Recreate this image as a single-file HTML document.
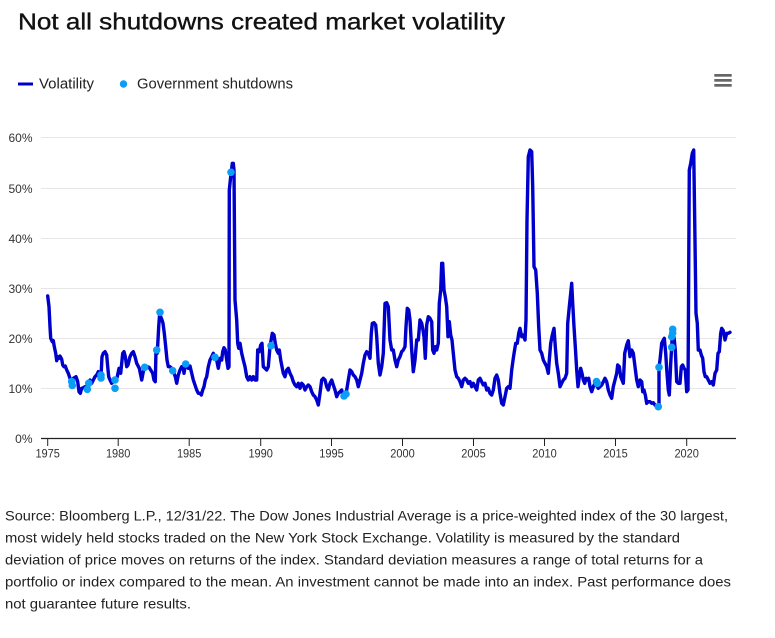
<!DOCTYPE html>
<html><head><meta charset="utf-8"><style>
html,body{margin:0;padding:0;background:#fff;}
svg{display:block;}
text{font-family:"Liberation Sans",Arial,sans-serif;}
</style></head><body>
<svg width="775" height="638" viewBox="0 0 775 638" xmlns="http://www.w3.org/2000/svg">
<rect width="775" height="638" fill="#fff"/>
<text x="18" y="29.3" font-size="23" fill="#111" stroke="#111" stroke-width="0.35" textLength="487" lengthAdjust="spacingAndGlyphs">Not all shutdowns created market volatility</text>
<!-- legend -->
<line x1="18" y1="84" x2="33" y2="84" stroke="#0000cc" stroke-width="3"/>
<text x="39" y="88.5" font-size="15" fill="#222" textLength="55" lengthAdjust="spacingAndGlyphs">Volatility</text>
<circle cx="123.5" cy="84" r="3.7" fill="#0c9ef5"/>
<text x="137" y="88.5" font-size="15" fill="#222" textLength="156" lengthAdjust="spacingAndGlyphs">Government shutdowns</text>
<!-- hamburger -->
<rect x="714.3" y="74" width="17.4" height="2.7" fill="#666"/>
<rect x="714.3" y="79" width="17.4" height="2.7" fill="#666"/>
<rect x="714.3" y="84" width="17.4" height="2.7" fill="#666"/>
<!-- gridlines -->
<g stroke="#e6e6e6" stroke-width="1">
<line x1="41" y1="137.5" x2="736" y2="137.5"/>
<line x1="41" y1="188.5" x2="736" y2="188.5"/>
<line x1="41" y1="238.5" x2="736" y2="238.5"/>
<line x1="41" y1="288.5" x2="736" y2="288.5"/>
<line x1="41" y1="338.5" x2="736" y2="338.5"/>
<line x1="41" y1="388.5" x2="736" y2="388.5"/>
</g>
<!-- y labels -->
<g font-size="12" fill="#333" text-anchor="end">
<text x="32.5" y="142">60%</text>
<text x="32.5" y="193">50%</text>
<text x="32.5" y="243">40%</text>
<text x="32.5" y="293">30%</text>
<text x="32.5" y="343">20%</text>
<text x="32.5" y="393">10%</text>
<text x="32.5" y="443">0%</text>
</g>
<!-- x axis -->
<line x1="41" y1="438.5" x2="736" y2="438.5" stroke="#222" stroke-width="1.2"/>
<g stroke="#222" stroke-width="1">
<line x1="47.7" y1="438.5" x2="47.7" y2="446"/>
<line x1="118.2" y1="438.5" x2="118.2" y2="446"/>
<line x1="189.2" y1="438.5" x2="189.2" y2="446"/>
<line x1="260.7" y1="438.5" x2="260.7" y2="446"/>
<line x1="331.5" y1="438.5" x2="331.5" y2="446"/>
<line x1="402.5" y1="438.5" x2="402.5" y2="446"/>
<line x1="473.5" y1="438.5" x2="473.5" y2="446"/>
<line x1="544.5" y1="438.5" x2="544.5" y2="446"/>
<line x1="615.5" y1="438.5" x2="615.5" y2="446"/>
<line x1="686.7" y1="438.5" x2="686.7" y2="446"/>
</g>
<g font-size="12" fill="#333" text-anchor="middle">
<text x="47.7" y="457.5" textLength="24.5" lengthAdjust="spacingAndGlyphs">1975</text>
<text x="118.2" y="457.5" textLength="24.5" lengthAdjust="spacingAndGlyphs">1980</text>
<text x="189.2" y="457.5" textLength="24.5" lengthAdjust="spacingAndGlyphs">1985</text>
<text x="260.7" y="457.5" textLength="24.5" lengthAdjust="spacingAndGlyphs">1990</text>
<text x="331.5" y="457.5" textLength="24.5" lengthAdjust="spacingAndGlyphs">1995</text>
<text x="402.5" y="457.5" textLength="24.5" lengthAdjust="spacingAndGlyphs">2000</text>
<text x="473.5" y="457.5" textLength="24.5" lengthAdjust="spacingAndGlyphs">2005</text>
<text x="544.5" y="457.5" textLength="24.5" lengthAdjust="spacingAndGlyphs">2010</text>
<text x="615.5" y="457.5" textLength="24.5" lengthAdjust="spacingAndGlyphs">2015</text>
<text x="686.7" y="457.5" textLength="24.5" lengthAdjust="spacingAndGlyphs">2020</text>
</g>
<!-- volatility line -->
<polyline fill="none" stroke="#0000cc" stroke-width="3.4" stroke-linejoin="round" stroke-linecap="round" points="
47.7,296 49,306.7 50,326.7 50.7,338.3 52.3,341.7 53.3,340.7 54.3,346.7 55.7,353.3 56.7,360.7 57.7,356.7 59,358.3 60,356 61.7,359.3 62.7,365 64,366.7 65.3,366 66.7,370 68.3,373.3 70,378.3 71,383.3 73.3,378.3 76,376.7 77.7,381.7 79,391.7 80.3,393.3 81.7,388.3 83.3,387.7 85,386.7 86.7,390 88.3,383.3 90,380 91.7,383.3 93.3,380 95,376.7 96.7,375 98.3,371.7 100,373.3 101,376.7 102,356.7 103.3,353.3 105,351.7 106.7,355 107.7,366.7 108.7,376.7 110,380 111.7,383.3 113.3,381.7 116,380 117.3,376.7 119,368.3 120.7,373.3 122.7,353.3 124,351.7 125.3,356.7 126.7,366.7 128,365 130,356.7 131.7,353.3 133.3,351.7 135,356.7 136.7,363.3 139.3,368.3 141.7,380 143.3,371.7 144.3,367.3 146.7,366.7 149,367.3 150.7,370 152.7,373.3 154,380 155.3,381.7 156,350 157.3,353.3 158.7,326.7 159.7,313.3 160.7,316.7 162,320 163,323.3 164.3,333.3 165.7,346.7 167,360 168.3,366.7 170,366.7 171.7,368.3 172.7,370 174,373.3 175.3,376.7 176.7,383.3 178.3,375 180,370 181.7,366.7 183.3,368.3 184,373.3 185.3,365 187.3,366.7 188.3,368.3 190,366 191.7,373.3 193.3,380 195,385 196.7,390 198.3,393.3 200,393.3 201.3,395 202.7,390 204,386.7 205.3,380 206.7,376.7 208.3,366.7 210,360 211.7,356.7 213.3,353.3 214.7,357.3 216.7,360 218.3,368.3 220,358.3 221.7,360 222.7,351.7 224,347.7 225.3,350 226.7,360 228,368.3 229,366.7 229.3,190 230.7,176.7 232.3,163.3 233.3,163.3 234,170 235,300 236.7,320 237.7,343.3 238.7,348.3 240,343.3 241.7,353.3 243.3,360 245,366.7 246.7,376.7 248.3,380 250,376.7 251.7,380 253.3,376.7 255,380 256.7,380 257.7,350 259.3,351.7 260.7,345 262,343.3 263.3,366.7 265,368.3 266.7,370 268.3,366.7 270,346.7 272.3,333.3 274,335 275.3,343.3 276.7,350 278.3,353.3 279.3,350 280.7,360 282,366.7 283.3,373.3 285,376.7 286.7,370 288.3,368.3 290,373.3 291.7,376.7 293.3,381.7 295,385 296.7,386.7 298.3,383.3 300,388.3 301.7,383.3 303.3,385 305,390 306.7,386.7 308.3,385 310,386.7 311.7,391.7 313.3,395 315,396.7 316.7,400 318.3,405 320,393.3 321.7,380 323.3,378.3 325,380 326.7,386.7 328.3,390 330,383.3 331.7,380 333.3,385 335,390 336.7,396.7 338.3,393.3 340,391.7 341.7,390 343.3,396.7 346.7,390 348.3,380 350,370 351.7,371.7 353.3,375 355,376.7 356.7,380 358.3,386.7 360,380 361.7,373.3 363.3,363.3 365,355 366.7,351.7 368.3,353.3 370,358.3 371.3,333.3 372.3,323.3 374,322.7 375.7,325 376.7,336.7 378.3,363.3 380,375 381.7,366.7 383.3,353.3 385,303.3 386.7,302.7 388.3,306.7 390,340 391.7,350 393.3,350 395,360 396.7,366.7 398.3,360 400,356.7 401.7,351.7 403.3,350 405,346.7 406,326.7 407.3,308.3 408.7,310 410,320 411.7,350 413.3,371.7 415,360 416.7,340 418.3,340 420,320 421.7,323.3 422.7,328.3 424,336.7 425.3,358.3 426.7,325 428.3,316.7 430,318.3 431.7,321.7 432.7,350 434,353.3 435.3,346.7 436.7,350 438.3,343.3 439.3,303.3 440.7,290 441.7,263.3 442.7,263.3 444,290 445.3,296.7 446.7,306.7 448,336.7 449.3,321.7 450.7,335 452,340 453.3,353.3 455,370 456.7,376.7 458.3,378.3 460,381.7 461.7,386.7 463.3,380 465,378.3 466.7,380 468.3,383.3 470,381.7 471.7,386.7 473.3,383.3 475,386.7 476.7,390 478.3,380 480,378.3 481.7,381.7 483.3,385 485,383.3 486.7,390 488.3,388.3 490,393.3 491.7,395 493.3,390 495,378.3 496.7,375 498.3,380 500,393.3 501.7,403.3 503.3,405 505,396.7 506.7,388.3 508.3,386.7 510,388.3 511.7,370 513.3,358.3 514.3,351.7 515.7,343.3 517.3,343.3 518.7,333.3 520,328.3 521.7,336.7 523.3,335 525,340 526,320 527,220 528.3,156.7 530,150 531.7,151.7 532.7,186.7 534,266.7 535.7,270 537.3,293.3 538.7,326.7 540,350 541.7,353.3 543.3,360 545,363.3 546.7,366.7 548.3,373.3 549.3,360 550.7,343.3 552.3,335 554,328.3 555.3,346.7 556.7,363.3 558.3,373.3 560,386.7 561.7,383.3 563.3,380 565,378.3 566.7,373.3 567.7,323.3 569.3,306.7 570.7,293.3 571.7,283.3 572.7,303.3 574,326.7 575.3,346.7 576.7,370 578,386.7 579.3,376.7 580.7,368.3 582,373.3 583.3,380 584.7,383.3 586,378.3 587.3,380 588.7,378.3 590,386.7 591.7,391.7 593.3,386.7 595,383.3 598.3,388.3 600,386.7 601.7,385 603.3,381.7 605,378.3 606.7,381.7 608.3,390 610,395 611.7,398.3 613.3,386.7 615,380 616.7,373.3 617.7,365 619.3,366.7 620.7,376.7 622,380 623.3,383.3 624.7,353.3 626.7,345 628.3,340.7 630,356.7 631.7,350 633.3,353.3 635,366.7 636.7,380 638.3,386.7 640,380 641.7,381.7 642.7,391.7 644,390 645.3,395 646.7,403.3 648.3,401.7 650,401.7 651.7,403.3 653.3,402.7 655,405 656.7,406.7 659,406.7 659,367.3 660,360 661.7,343.3 663.3,340 664.3,338.3 665.7,353.3 667,373.3 668.3,390 669.3,395 670.7,363.3 671.7,346.7 672.3,333.3 674,336.7 675.3,350 676.7,381.7 678.3,383.3 680,383.3 681.3,366.7 682.7,365 684,368.3 685.3,370 686.7,391.7 688,390 689.3,170 690.7,163.3 692.3,153.3 693.7,150 694.7,220 696,313.3 697.3,323.3 698.3,350 700,350 701.3,355 702.7,358.3 704,371.7 705.3,376.7 706.7,376.7 708.3,380 710,383.3 711.7,381.7 713.3,385 715,373.3 716.7,370 718,353.3 719.3,351.7 720.7,333.3 721.7,328.3 723.3,330.7 725,340 726.7,333.3 728.3,333.3 730,332.3"/>
<!-- shutdown dots -->
<g fill="#0c9ef5">
<circle cx="71.7" cy="381.5" r="3.8"/>
<circle cx="72.3" cy="385.5" r="3.8"/>
<circle cx="87.3" cy="389.3" r="3.8"/>
<circle cx="88.7" cy="383.3" r="3.8"/>
<circle cx="101" cy="375" r="3.8"/>
<circle cx="101" cy="378" r="3.8"/>
<circle cx="115" cy="380" r="3.8"/>
<circle cx="115" cy="388.3" r="3.8"/>
<circle cx="144.7" cy="367.3" r="3.8"/>
<circle cx="156.7" cy="350" r="3.8"/>
<circle cx="160" cy="312.3" r="3.8"/>
<circle cx="172.7" cy="370.7" r="3.8"/>
<circle cx="185.7" cy="364" r="3.8"/>
<circle cx="215" cy="357.3" r="3.8"/>
<circle cx="231" cy="172.3" r="3.8"/>
<circle cx="271" cy="345.7" r="3.8"/>
<circle cx="344" cy="396" r="3.8"/>
<circle cx="346" cy="394" r="3.8"/>
<circle cx="597.3" cy="383.3" r="3.8"/>
<circle cx="596.5" cy="381.5" r="3.8"/>
<circle cx="658.3" cy="406.7" r="3.8"/>
<circle cx="659" cy="367.3" r="3.8"/>
<circle cx="671.7" cy="347.3" r="3.8"/>
<circle cx="671.7" cy="336.7" r="3.8"/>
<circle cx="672.7" cy="329.3" r="3.8"/>
<circle cx="672.7" cy="333" r="3.8"/>
</g>
<!-- footnote -->
<g font-size="14" fill="#222">
<text x="5" y="520.5" textLength="723" lengthAdjust="spacingAndGlyphs">Source: Bloomberg L.P., 12/31/22. The Dow Jones Industrial Average is a price-weighted index of the 30 largest,</text>
<text x="5" y="542.5" textLength="675" lengthAdjust="spacingAndGlyphs">most widely held stocks traded on the New York Stock Exchange. Volatility is measured by the standard</text>
<text x="5" y="564.5" textLength="698" lengthAdjust="spacingAndGlyphs">deviation of price moves on returns of the index. Standard deviation measures a range of total returns for a</text>
<text x="5" y="586.5" textLength="726" lengthAdjust="spacingAndGlyphs">portfolio or index compared to the mean. An investment cannot be made into an index. Past performance does</text>
<text x="5" y="608.5" textLength="186" lengthAdjust="spacingAndGlyphs">not guarantee future results.</text>
</g>
</svg>
</body></html>
